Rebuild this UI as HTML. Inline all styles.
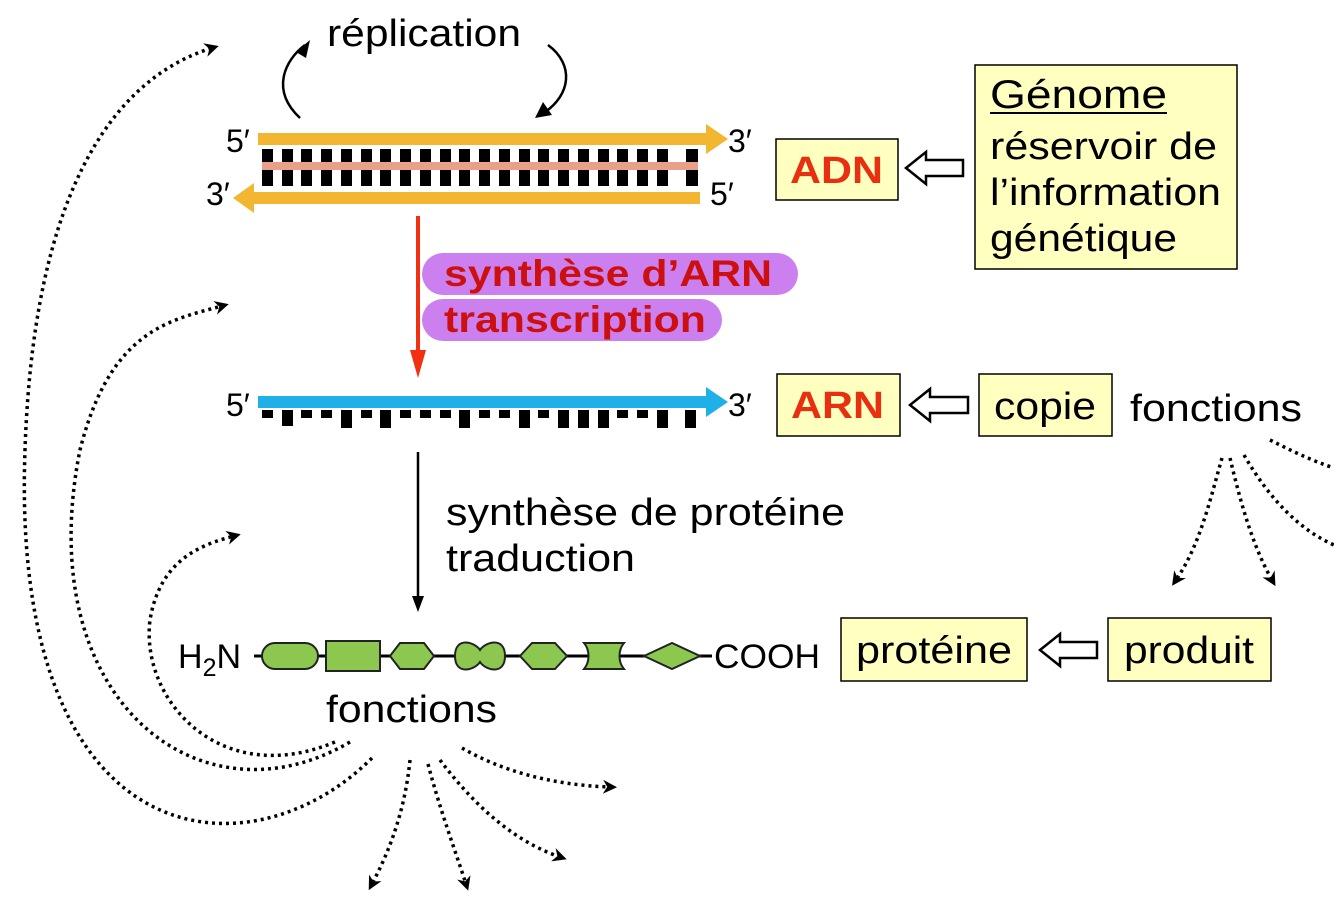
<!DOCTYPE html>
<html><head><meta charset="utf-8"><style>
body{margin:0;background:#fff}
svg{display:block}
text{font-family:"Liberation Sans",Arial,sans-serif}
</style></head><body>
<svg width="1334" height="903" viewBox="0 0 1334 903" xmlns="http://www.w3.org/2000/svg">
<defs>
<marker id="dh" viewBox="0 0 10 10" refX="5" refY="5" markerWidth="14" markerHeight="14" orient="auto" markerUnits="userSpaceOnUse"><path d="M0,0 L10,5 L0,10 L3,5 z" fill="#000"/></marker>
</defs>

<text x="327" y="46" font-size="38" textLength="194" lengthAdjust="spacingAndGlyphs">réplication</text>
<path d="M300,118 C270,90 285,60 305,45" fill="none" stroke="#000" stroke-width="2.5"/>
<path d="M296,52 L310,40 L306,58 z"/>
<path d="M548,45 C575,65 570,95 545,112" fill="none" stroke="#000" stroke-width="2.5"/>
<path d="M535,118 L552,115 L543,102 z"/>

<text x="226" y="152" font-size="32">5′</text>
<text x="728" y="152" font-size="32">3′</text>
<text x="206" y="205" font-size="32">3′</text>
<text x="710" y="205" font-size="32">5′</text>
<g fill="#000">
<rect x="262" y="149" width="11" height="37"/><rect x="282" y="149" width="11" height="37"/><rect x="301" y="149" width="11" height="37"/><rect x="321" y="149" width="11" height="37"/><rect x="341" y="149" width="11" height="37"/><rect x="361" y="149" width="11" height="37"/><rect x="380" y="149" width="11" height="37"/><rect x="400" y="149" width="11" height="37"/><rect x="420" y="149" width="11" height="37"/><rect x="440" y="149" width="11" height="37"/><rect x="459" y="149" width="11" height="37"/><rect x="479" y="149" width="11" height="37"/><rect x="499" y="149" width="11" height="37"/><rect x="519" y="149" width="11" height="37"/><rect x="538" y="149" width="11" height="37"/><rect x="558" y="149" width="11" height="37"/><rect x="578" y="149" width="11" height="37"/><rect x="598" y="149" width="11" height="37"/><rect x="617" y="149" width="11" height="37"/><rect x="637" y="149" width="11" height="37"/><rect x="657" y="149" width="11" height="37"/><rect x="686" y="149" width="12" height="37"/>
</g>
<rect x="262" y="162" width="436" height="8" fill="#e8a088"/>
<rect x="258" y="133" width="452" height="12" fill="#f2b630"/>
<path d="M706,124 L728,139 L706,154 z" fill="#f2b630"/>
<rect x="250" y="192" width="450" height="12" fill="#f2b630"/>
<path d="M254,183 L233,198 L254,213 z" fill="#f2b630"/>

<line x1="418" y1="216" x2="418" y2="360" stroke="#f03010" stroke-width="4"/>
<path d="M410,350 L418,378 L426,350 z" fill="#f03010"/>
<rect x="422" y="253" width="376" height="42" rx="21" fill="#cc80f0"/>
<rect x="422" y="299" width="300" height="42" rx="21" fill="#cc80f0"/>
<text x="444" y="286" font-size="37" font-weight="bold" fill="#cc1010" textLength="328" lengthAdjust="spacingAndGlyphs">synthèse d’ARN</text>
<text x="444" y="332" font-size="37" font-weight="bold" fill="#cc1010" textLength="262" lengthAdjust="spacingAndGlyphs">transcription</text>

<text x="226" y="416" font-size="32">5′</text>
<text x="728" y="416" font-size="32">3′</text>
<rect x="258" y="396" width="452" height="12" fill="#20b0e8"/>
<path d="M706,387 L728,402 L706,417 z" fill="#20b0e8"/>
<g fill="#000">
<rect x="262" y="410" width="11" height="8"/><rect x="282" y="410" width="11" height="16"/><rect x="301" y="410" width="11" height="8"/><rect x="321" y="410" width="11" height="8"/><rect x="341" y="410" width="11" height="18"/><rect x="361" y="410" width="11" height="8"/><rect x="380" y="410" width="11" height="18"/><rect x="400" y="410" width="11" height="8"/><rect x="420" y="410" width="11" height="8"/><rect x="440" y="410" width="11" height="8"/><rect x="459" y="410" width="11" height="18"/><rect x="479" y="410" width="11" height="8"/><rect x="499" y="410" width="11" height="8"/><rect x="519" y="410" width="11" height="18"/><rect x="538" y="410" width="11" height="8"/><rect x="558" y="410" width="11" height="18"/><rect x="578" y="410" width="11" height="18"/><rect x="598" y="410" width="11" height="18"/><rect x="617" y="410" width="11" height="8"/><rect x="637" y="410" width="11" height="8"/><rect x="657" y="410" width="11" height="18"/><rect x="685" y="410" width="11" height="18"/>
</g>

<line x1="418" y1="452" x2="418" y2="600" stroke="#000" stroke-width="2.5"/>
<path d="M412,596 L418,612 L424,596 z"/>
<text x="446" y="525" font-size="38" textLength="399" lengthAdjust="spacingAndGlyphs">synthèse de protéine</text>
<text x="446" y="571" font-size="38" textLength="189" lengthAdjust="spacingAndGlyphs">traduction</text>

<text x="178" y="668" font-size="34">H<tspan font-size="25" dy="8">2</tspan><tspan dy="-8">N</tspan></text>
<line x1="254" y1="656" x2="712" y2="656" stroke="#000" stroke-width="3"/>
<g fill="#8cc850" stroke="#222" stroke-width="2">
<rect x="262" y="643" width="56" height="26" rx="13"/>
<rect x="326" y="641" width="54" height="30"/>
<path d="M390,656 L400,643 L424,643 L434,656 L424,669 L400,669 z"/>
<path d="M455,656 C455,636 475,642 480,650 C485,642 505,636 505,656 C505,676 485,670 480,662 C475,670 455,676 455,656 z"/>
<path d="M520,656 L532,643 L555,643 L567,656 L555,669 L532,669 z"/>
<path d="M584,643 L624,643 C618,650 618,662 624,669 L584,669 C590,662 590,650 584,643 z"/>
<path d="M644,656 L672,643 L700,656 L672,669 z"/>
</g>
<text x="714" y="668" font-size="34" textLength="106" lengthAdjust="spacingAndGlyphs">COOH</text>
<text x="326" y="722" font-size="38" textLength="171" lengthAdjust="spacingAndGlyphs">fonctions</text>

<g fill="#ffffc0" stroke="#000" stroke-width="1.5">
<rect x="776" y="139" width="122" height="61"/>
<rect x="975" y="65" width="262" height="204"/>
<rect x="777" y="374" width="123" height="62"/>
<rect x="979" y="374" width="133" height="62"/>
<rect x="841" y="618" width="186" height="63"/>
<rect x="1108" y="618" width="163" height="63"/>
</g>
<text x="790" y="183" font-size="38" font-weight="bold" fill="#e83010" textLength="93" lengthAdjust="spacingAndGlyphs">ADN</text>
<text x="791" y="418" font-size="38" font-weight="bold" fill="#e83010" textLength="93" lengthAdjust="spacingAndGlyphs">ARN</text>
<text x="994" y="419" font-size="38" textLength="102" lengthAdjust="spacingAndGlyphs">copie</text>
<text x="856" y="663" font-size="38" textLength="156" lengthAdjust="spacingAndGlyphs">protéine</text>
<text x="1124" y="663" font-size="38" textLength="130" lengthAdjust="spacingAndGlyphs">produit</text>
<text x="990" y="108" font-size="40" textLength="177" lengthAdjust="spacingAndGlyphs">Génome</text>
<line x1="990" y1="113" x2="1167" y2="113" stroke="#000" stroke-width="2"/>
<text x="990" y="159" font-size="38" textLength="227" lengthAdjust="spacingAndGlyphs">réservoir de</text>
<text x="990" y="205" font-size="38" textLength="231" lengthAdjust="spacingAndGlyphs">l’information</text>
<text x="990" y="251" font-size="38" textLength="187" lengthAdjust="spacingAndGlyphs">génétique</text>
<text x="1130" y="421" font-size="38" textLength="172" lengthAdjust="spacingAndGlyphs">fonctions</text>

<g fill="#fff" stroke="#000" stroke-width="2.5">
<path d="M963,160 L926,160 L926,152 L906,168 L926,184 L926,176 L963,176 z"/>
<path d="M968,397 L930,397 L930,389 L910,405 L930,421 L930,413 L968,413 z"/>
<path d="M1097,642 L1060,642 L1060,634 L1040,650 L1060,666 L1060,658 L1097,658 z"/>
</g>

<g fill="none" stroke="#000" stroke-width="3.5" stroke-dasharray="3,4" marker-end="url(#dh)">
<path d="M372,758 C250,880 10,860 25,450 C35,150 140,70 212,48"/>
<path d="M350,742 C200,830 30,700 80,450 C110,330 170,320 222,306"/>
<path d="M335,742 C220,790 140,700 150,620 C160,560 200,545 234,536"/>
<path d="M462,748 C500,770 550,785 610,787"/>
<path d="M440,760 C470,800 510,840 560,857"/>
<path d="M428,764 C440,810 455,850 466,884"/>
<path d="M410,760 C405,810 390,850 372,884"/>
<path d="M1222,458 C1210,500 1200,545 1176,580"/>
<path d="M1230,458 C1240,500 1252,545 1272,580"/>
<path d="M1244,455 C1270,500 1300,530 1334,545" marker-end="none"/>
<path d="M1270,440 C1290,450 1310,460 1334,468" marker-end="none"/>
</g>
</svg>
</body></html>
